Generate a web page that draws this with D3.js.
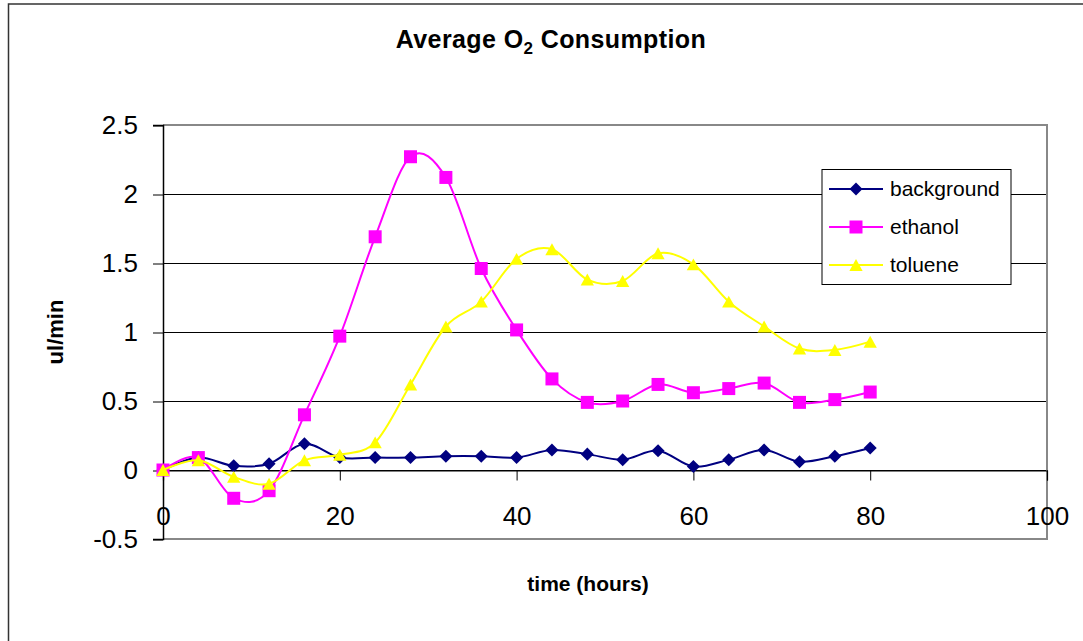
<!DOCTYPE html>
<html>
<head>
<meta charset="utf-8">
<script src="https://cdn.jsdelivr.net/npm/d3@7"></script>
<style>
  body { margin: 0; background: #fff; }
  svg { display: block; font-family: Arial, "Liberation Sans", sans-serif; }
</style>
</head>
<body>
<div id="chart"></div>
<script>
// data
const hours = [0, 4, 8, 12, 16, 20, 24, 28, 32, 36, 40, 44, 48, 52, 56, 60, 64, 68, 72, 76, 80];
const background = [0, 0.09, 0.03, 0.045, 0.19, 0.09, 0.09, 0.09, 0.1, 0.1, 0.09, 0.145, 0.115, 0.075, 0.14, 0.025, 0.075, 0.145, 0.06, 0.1, 0.16];
const ethanol = [0, 0.09, -0.205, -0.15, 0.4, 0.97, 1.69, 2.27, 2.12, 1.46, 1.015, 0.66, 0.49, 0.5, 0.62, 0.56, 0.59, 0.63, 0.49, 0.51, 0.565];
const toluene = [0, 0.07, -0.05, -0.1, 0.07, 0.11, 0.2, 0.62, 1.04, 1.22, 1.53, 1.6, 1.38, 1.37, 1.57, 1.49, 1.22, 1.04, 0.88, 0.87, 0.93];
const seriesNames = ["background", "ethanol", "toluene"];
const xTicks = [0, 20, 40, 60, 80, 100];
const yTicks = [-0.5, 0, 0.5, 1, 1.5, 2, 2.5];

const W = 1083, H = 641;
const plot = { left: 163, top: 125, right: 1047, bottom: 539 };

const svg = d3.select("#chart").append("svg")
    .attr("width", W)
    .attr("height", H);

// outer chart frame (runs off the right/bottom edge like the original)
svg.append("rect")
    .attr("x", 8.5).attr("y", 4)
    .attr("width", W + 20).attr("height", H + 20)
    .attr("fill", "#fff")
    .attr("stroke", "#333")
    .attr("stroke-width", 1.5);

const x = d3.scaleLinear().domain([0, 100]).range([plot.left, plot.right]);
const y = d3.scaleLinear().domain([-0.5, 2.5]).range([plot.bottom, plot.top]);

// excel-like markers
const diamond = {
    draw: function (ctx, size) {
        const r = Math.sqrt(size / 2);
        ctx.moveTo(0, -r); ctx.lineTo(r, 0); ctx.lineTo(0, r); ctx.lineTo(-r, 0); ctx.closePath();
    }
};
const triangle = {
    draw: function (ctx, size) {
        const w = Math.sqrt(size * 2.2) / 2, h = w * 0.9;
        ctx.moveTo(0, -h); ctx.lineTo(w, h); ctx.lineTo(-w, h); ctx.closePath();
    }
};

// gridlines
svg.append("g")
    .selectAll("line")
    .data(yTicks)
    .enter()
    .append("line")
    .attr("x1", plot.left)
    .attr("x2", plot.right)
    .attr("y1", d => y(d) + 0.5)
    .attr("y2", d => y(d) + 0.5)
    .attr("stroke", "#000")
    .attr("stroke-width", 1);

// plot border (grey)
svg.append("path")
    .attr("d", `M${plot.left},${plot.top}H${plot.right}V${plot.bottom}H${plot.left}`)
    .attr("fill", "none")
    .attr("stroke", "#888")
    .attr("stroke-width", 2);

// y axis
const yAxis = svg.append("g")
    .attr("transform", `translate(${plot.left},0)`)
    .call(d3.axisLeft(y).tickValues(yTicks).tickSize(10).tickPadding(15).tickFormat(d => String(d)));
yAxis.select(".domain").attr("stroke", "#000").attr("stroke-width", 1.5);
yAxis.selectAll(".tick line").attr("stroke", "#000").attr("transform", "translate(0,0.5)");
yAxis.selectAll("text").attr("font-size", 26).attr("fill", "#000")
    .attr("font-family", "Arial, 'Liberation Sans', sans-serif");

// x axis crosses at y = 0
const xAxis = svg.append("g")
    .attr("transform", `translate(0,${y(0) + 0.5})`)
    .call(d3.axisBottom(x).tickValues(xTicks).tickSize(10).tickPadding(26).tickFormat(d => String(d)));
xAxis.select(".domain").attr("stroke", "#000").attr("stroke-width", 1.2);
xAxis.selectAll(".tick line").attr("stroke", "#000");
xAxis.selectAll("text").attr("font-size", 26).attr("fill", "#000")
    .attr("font-family", "Arial, 'Liberation Sans', sans-serif");

// series
const series = [
    { name: seriesNames[0], values: background, color: "#000080", marker: diamond, size: 85 },
    { name: seriesNames[1], values: ethanol, color: "#FF00FF", marker: d3.symbolSquare, size: 169 },
    { name: seriesNames[2], values: toluene, color: "#FFFF00", marker: triangle, size: 80 }
];

const line = d3.line()
    .x((d, i) => x(hours[i]))
    .y(d => y(d))
    .curve(d3.curveCatmullRom.alpha(0));

series.forEach(function (s) {
    const g = svg.append("g");
    g.append("path")
        .datum(s.values)
        .attr("d", line)
        .attr("fill", "none")
        .attr("stroke", s.color)
        .attr("stroke-width", 2);
    g.selectAll("path.pt")
        .data(s.values)
        .enter()
        .append("path")
        .attr("class", "pt")
        .attr("d", d3.symbol().type(s.marker).size(s.size))
        .attr("transform", (d, i) => `translate(${x(hours[i])},${y(d)})`)
        .attr("fill", s.color);
});

// legend
const legend = svg.append("g");
legend.append("rect")
    .attr("x", 822).attr("y", 169.5)
    .attr("width", 189).attr("height", 115)
    .attr("fill", "#fff")
    .attr("stroke", "#000")
    .attr("stroke-width", 1);
const legendY = [189, 227, 265];
series.forEach(function (s, i) {
    legend.append("line")
        .attr("x1", 829).attr("x2", 883)
        .attr("y1", legendY[i]).attr("y2", legendY[i])
        .attr("stroke", s.color)
        .attr("stroke-width", 2);
    legend.append("path")
        .attr("d", d3.symbol().type(s.marker).size(s.size))
        .attr("transform", `translate(856,${legendY[i]})`)
        .attr("fill", s.color);
    legend.append("text")
        .attr("x", 890)
        .attr("y", legendY[i])
        .attr("dy", "0.35em")
        .attr("font-size", 21)
        .text(s.name);
});

// title
const title = svg.append("text")
    .attr("x", 551)
    .attr("y", 48)
    .attr("text-anchor", "middle")
    .attr("font-size", 25)
    .attr("font-weight", "bold")
    .attr("letter-spacing", 0.4);
title.append("tspan").text("Average O");
title.append("tspan").attr("font-size", 17).attr("dy", 6).text("2");
title.append("tspan").attr("dy", -6).text(" Consumption");

// axis titles
svg.append("text")
    .attr("x", 588)
    .attr("y", 591)
    .attr("text-anchor", "middle")
    .attr("font-size", 21)
    .attr("font-weight", "bold")
    .text("time (hours)");

svg.append("text")
    .attr("transform", "translate(63,332) rotate(-90)")
    .attr("text-anchor", "middle")
    .attr("font-size", 22)
    .attr("font-weight", "bold")
    .text("ul/min");
</script>
</body>
</html>
